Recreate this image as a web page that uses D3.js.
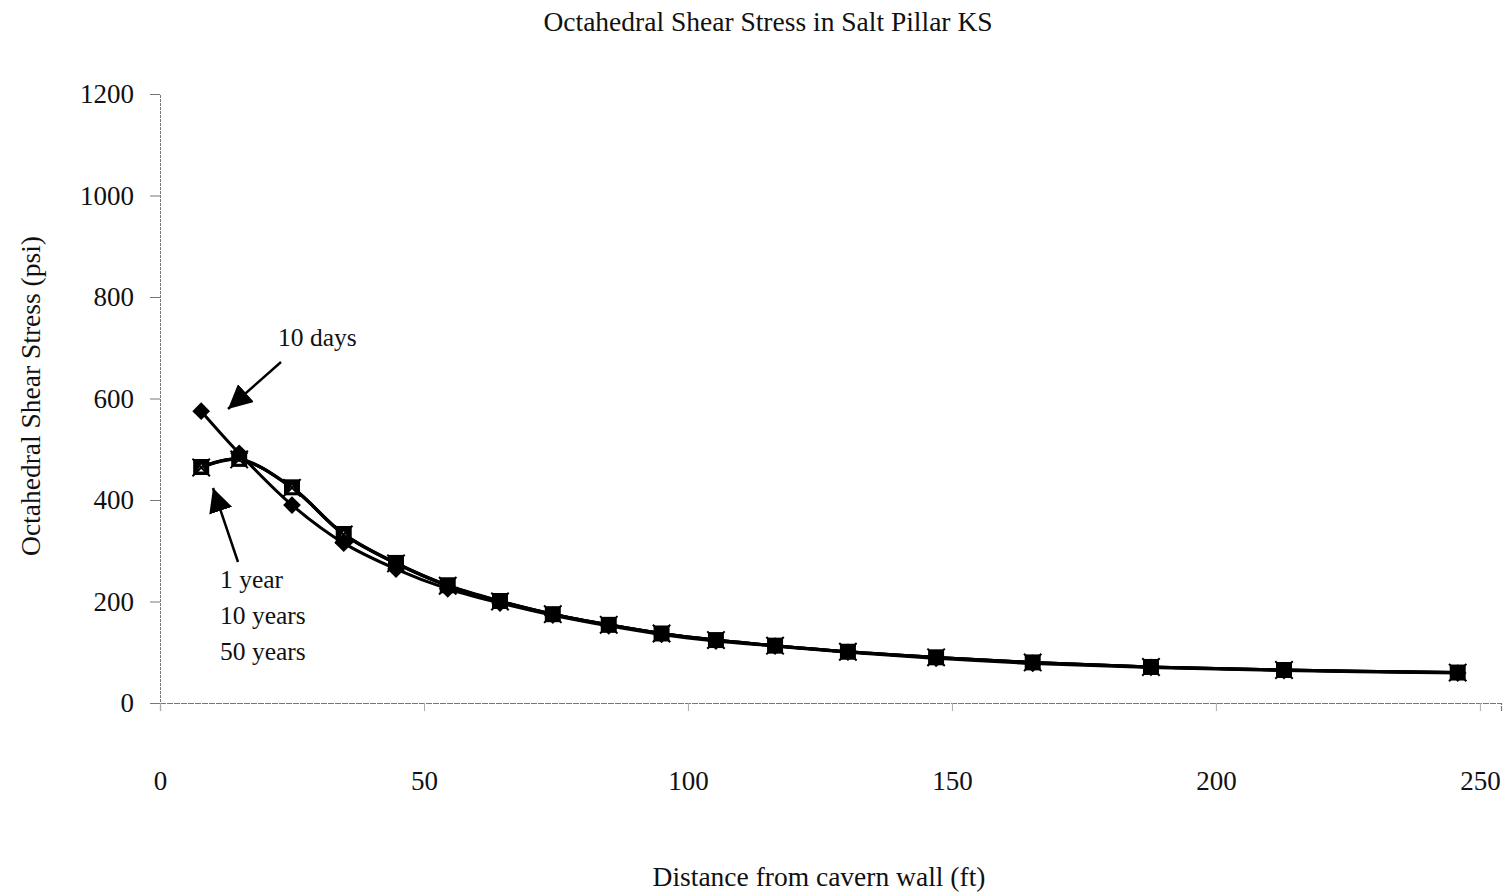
<!DOCTYPE html>
<html>
<head>
<meta charset="utf-8">
<script src="https://cdn.jsdelivr.net/npm/d3@7"></script>
<style>
  html, body { margin: 0; padding: 0; background: #fff; }
  svg { display: block; }
  text { font-family: "Liberation Serif", "DejaVu Serif", serif; fill: #111; }
</style>
</head>
<body>
<svg id="chart" width="1508" height="896"></svg>
<script>
// ---- data ----
const distances = [7.8, 15, 25, 34.8, 44.7, 54.5, 64.4, 74.4, 85, 95, 105.3, 116.5, 130.3, 147, 165.3, 187.7, 212.9, 245.8];
const tenDays    = [575, 492, 390, 315, 264, 225, 197, 173, 152, 135, 122, 112, 100, 88, 78, 70, 64, 59];
const oneYear    = [465, 481, 425, 333, 276, 232, 201, 175, 154, 137, 124, 113, 101, 90, 80, 71, 65, 60];
const tenYears   = [465, 480, 424, 333, 275, 231, 200, 175, 154, 137, 124, 113, 101, 90, 80, 71, 65, 60];
const fiftyYears = [464, 480, 424, 332, 275, 231, 200, 175, 154, 137, 124, 113, 101, 90, 80, 71, 65, 60];
const xTicks = [0, 50, 100, 150, 200, 250];
const yTicks = [0, 200, 400, 600, 800, 1000, 1200];
const title = "Octahedral Shear Stress in Salt Pillar KS";
const xTitle = "Distance from cavern wall (ft)";
const yTitle = "Octahedral Shear Stress (psi)";

const svg = d3.select("#chart");
const x = d3.scaleLinear().domain([0, 254]).range([160, 1501]);
const y = d3.scaleLinear().domain([0, 1200]).range([703, 94]);

// axes
const yAxis = d3.axisLeft(y).tickValues(yTicks).tickSize(10).tickPadding(16).tickFormat(d3.format("d"));
const gy = svg.append("g").attr("transform", `translate(${x(0)},0)`).call(yAxis);
gy.select(".domain").attr("stroke", "#777").attr("stroke-width", 1).attr("stroke-dasharray", "3,1");
gy.selectAll(".tick line").attr("stroke", "#777");
gy.selectAll(".tick text").attr("font-size", 27).attr("font-family", "Liberation Serif").attr("fill", "#111");

const xAxis = d3.axisBottom(x).tickValues(xTicks).tickSize(8).tickPadding(60).tickFormat(d3.format("d"));
const gx = svg.append("g").attr("transform", `translate(0,${y(0)})`).call(xAxis);
gx.select(".domain").attr("stroke", "#777").attr("stroke-width", 1.2).attr("stroke-dasharray", "6,1");
gx.selectAll(".tick line").attr("stroke", "#aaa");
gx.selectAll(".tick text").attr("font-size", 27).attr("font-family", "Liberation Serif").attr("fill", "#111");

// titles
svg.append("text").attr("x", 768).attr("y", 31).attr("text-anchor", "middle").attr("font-size", 27.5).text(title);
svg.append("text").attr("x", 819).attr("y", 886).attr("text-anchor", "middle").attr("font-size", 27.5).text(xTitle);
svg.append("text").attr("transform", `translate(40,396) rotate(-90)`).attr("text-anchor", "middle").attr("font-size", 27.5).text(yTitle);

// lines
const series = [
  { name: "1 year", values: oneYear, sym: "square" },
  { name: "10 years", values: tenYears, sym: "triangle" },
  { name: "50 years", values: fiftyYears, sym: "x" },
  { name: "10 days", values: tenDays, sym: "diamond" }
];
const line = d3.line().x(d => x(d[0])).y(d => y(d[1])).curve(d3.curveCatmullRom.alpha(0.5));
series.forEach(s => {
  const pts = distances.map((d, i) => [d, s.values[i]]);
  svg.append("path").datum(pts).attr("d", line).attr("fill", "none").attr("stroke", "#000").attr("stroke-width", 3);
});

// markers
series.forEach(s => {
  const pts = distances.map((d, i) => [d, s.values[i]]);
  const g = svg.append("g");
  pts.forEach(p => {
    const cx = x(p[0]), cy = y(p[1]);
    if (s.sym === "square") {
      g.append("path").attr("d", d3.symbol(d3.symbolSquare, 256)()).attr("transform", `translate(${cx},${cy})`).attr("fill", "#000");
    } else if (s.sym === "triangle") {
      g.append("path").attr("d", d3.symbol(d3.symbolTriangle, 30)()).attr("transform", `translate(${cx},${cy + 2})`).attr("fill", "#fff");
    } else if (s.sym === "x") {
      g.append("path").attr("d", d3.symbol(d3.symbolX, 200)()).attr("transform", `translate(${cx},${cy})`).attr("stroke", "#000").attr("stroke-width", 2).attr("fill", "none");
    } else if (s.sym === "diamond") {
      g.append("path").attr("d", d3.symbol(d3.symbolDiamond2, 200)()).attr("transform", `translate(${cx},${cy})`).attr("fill", "#000");
    }
  });
});

// annotations
const defs = svg.append("defs");
defs.append("marker").attr("id", "arrow").attr("viewBox", "0 0 10 10").attr("refX", 10).attr("refY", 5)
  .attr("markerUnits", "userSpaceOnUse")
  .attr("orient", "auto").attr("markerWidth", 24).attr("markerHeight", 24)
  .append("path").attr("d", "M0,0 L10,5 L0,10 Z").attr("fill", "#000");

svg.append("line").attr("x1", 281).attr("y1", 362).attr("x2", 228).attr("y2", 409)
  .attr("stroke", "#000").attr("stroke-width", 2.5).attr("marker-end", "url(#arrow)");
svg.append("text").attr("x", 278).attr("y", 346).attr("font-size", 25.5).text("10 days");

svg.append("line").attr("x1", 238).attr("y1", 562).attr("x2", 213).attr("y2", 488)
  .attr("stroke", "#000").attr("stroke-width", 2.5).attr("marker-end", "url(#arrow)");
svg.append("text").attr("x", 220).attr("y", 588).attr("font-size", 25.5).text("1 year");
svg.append("text").attr("x", 220).attr("y", 624).attr("font-size", 25.5).text("10 years");
svg.append("text").attr("x", 220).attr("y", 660).attr("font-size", 25.5).text("50 years");
</script>
</body>
</html>
